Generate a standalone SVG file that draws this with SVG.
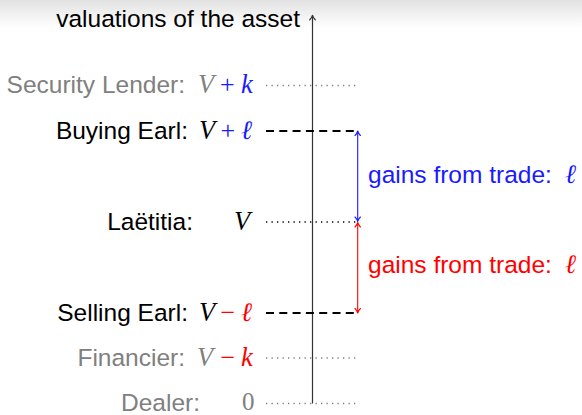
<svg xmlns="http://www.w3.org/2000/svg" width="582" height="415" viewBox="0 0 582 415">
<defs>
<linearGradient id="bg" x1="0" y1="0" x2="0" y2="1">
<stop offset="0" stop-color="#e2e2e2"/>
<stop offset="1" stop-color="#ffffff"/>
</linearGradient>
<style>
.s{font-family:"Liberation Sans",Arial,sans-serif;font-size:24.5px}
.m{font-family:"Liberation Serif","Times New Roman",serif;font-size:26.5px;font-style:italic}
.r{font-family:"Liberation Serif","Times New Roman",serif;font-size:26px}
.g{fill:#808080}
.k{fill:#000}
.b{fill:#1a1aff}
.red{fill:#ff0000}
.dot{stroke-width:1.5;stroke-dasharray:1.3 4.2;fill:none}
.dash{stroke:#000;stroke-width:2;stroke-dasharray:8 5.3;fill:none}
.tip{fill:none;stroke-width:1.1;stroke-linecap:round;stroke-linejoin:round}
</style>
</defs>
<rect x="0" y="0" width="582" height="415" fill="#fff"/>
<rect x="0" y="0" width="582" height="28" fill="url(#bg)"/>

<g id="axis">
<line x1="312.5" y1="403.5" x2="312.5" y2="15.5" stroke="#333" stroke-width="1.2"/>
<path class="tip" stroke="#333" d="M309.6,20 Q311.8,18 312.5,15.2 Q313.2,18 315.4,20"/>
<text class="s k" x="300" y="27" text-anchor="end">valuations of the asset</text>
</g>

<g id="connectors">
<line class="dot" stroke="#808080" x1="266" y1="85.5" x2="357" y2="85.5"/>
<line class="dash" x1="266" y1="131" x2="356" y2="131"/>
<line class="dot" stroke="#000" x1="266" y1="222" x2="357" y2="222"/>
<line class="dash" x1="266" y1="313" x2="356" y2="313"/>
<line class="dot" stroke="#808080" x1="266" y1="358" x2="357" y2="358"/>
<line class="dot" stroke="#808080" x1="266" y1="403.5" x2="357" y2="403.5"/>
<line x1="357.7" y1="131.5" x2="357.7" y2="221" stroke="#1a1aff" stroke-width="1.1"/>
<path class="tip" stroke="#1a1aff" d="M355,135.5 Q357,133.5 357.7,131 Q358.4,133.5 360.4,135.5"/>
<path class="tip" stroke="#1a1aff" d="M355,217 Q357,219 357.7,221.5 Q358.4,219 360.4,217"/>
<line x1="357.7" y1="223" x2="357.7" y2="312.5" stroke="#ff0000" stroke-width="1.1"/>
<path class="tip" stroke="#ff0000" d="M355,227 Q357,225 357.7,222.5 Q358.4,225 360.4,227"/>
<path class="tip" stroke="#ff0000" d="M355,308.5 Q357,310.5 357.7,313 Q358.4,310.5 360.4,308.5"/>
</g>

<g id="security-lender">
<text class="s g" x="185" y="92.5" text-anchor="end">Security Lender:</text>
<text class="m g" x="198" y="93">V</text>
<text class="r b" x="220" y="93">+</text>
<text class="m b" x="241" y="93">k</text>
</g>

<g id="buying-earl">
<text class="s k" x="188" y="138.5" text-anchor="end">Buying Earl:</text>
<text class="m k" x="199" y="139">V</text>
<text class="r b" x="220.5" y="139">+</text>
<text class="m b" x="241" y="139">ℓ</text>
</g>

<g id="laetitia">
<text class="s k" x="193" y="229.5" text-anchor="end">Laëtitia:</text>
<text class="m k" x="234" y="230">V</text>
</g>

<g id="selling-earl">
<text class="s k" x="188" y="320.5" text-anchor="end">Selling Earl:</text>
<text class="m k" x="199" y="321">V</text>
<text class="r red" x="220.5" y="321">−</text>
<text class="m red" x="241" y="321">ℓ</text>
</g>

<g id="financier">
<text class="s g" x="185" y="365.5" text-anchor="end">Financier:</text>
<text class="m g" x="197" y="366">V</text>
<text class="r red" x="220.5" y="366">−</text>
<text class="m red" x="241" y="366">k</text>
</g>

<g id="dealer">
<text class="s g" x="200" y="410.5" text-anchor="end">Dealer:</text>
<text class="r g" x="242" y="410" style="font-size:25px">0</text>
</g>

<g id="gains-buy">
<text class="s b" x="368" y="183">gains from trade:</text>
<text class="m b" x="565" y="183">ℓ</text>
</g>

<g id="gains-sell">
<text class="s red" x="368" y="273">gains from trade:</text>
<text class="m red" x="565" y="273">ℓ</text>
</g>
</svg>
